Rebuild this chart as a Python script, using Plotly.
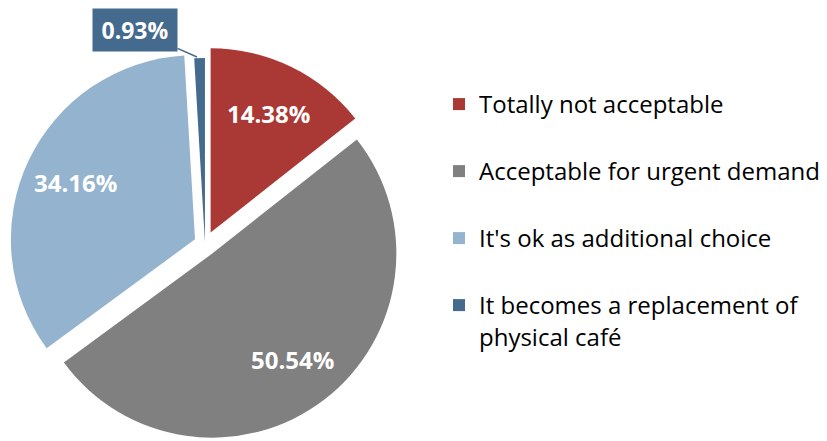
import math
import plotly.graph_objects as go

# Survey answers and their shares (%)
labels = [
    "Totally not acceptable",
    "Acceptable for urgent demand",
    "It's ok as additional choice",
    "It becomes a replacement of<br>physical café",
]
shares = [14.38, 50.54, 34.16, 0.93]
colors = ["#AA3835", "#808080", "#93B3CE", "#446A8E"]
pulls = [0.07, 0.065, 0.06, 0.01]

FONT = "Open Sans"
W, H = 827, 441

# Pie placement (pixels)
dom_x = (8, 402)
dom_top = 47
cx = (dom_x[0] + dom_x[1]) / 2
cy = (dom_top + H) / 2
radius = min(dom_x[1] - dom_x[0], H - dom_top) / (2 * (1 + max(pulls)))

fig = go.Figure()

fig.add_trace(go.Pie(
    labels=labels,
    values=shares,
    sort=False,
    direction="clockwise",
    rotation=0,
    pull=pulls,
    marker=dict(colors=colors, line=dict(width=0)),
    textinfo="none",
    showlegend=False,
    hoverinfo="label+value",
    domain=dict(x=[dom_x[0] / W, dom_x[1] / W], y=[0, (H - dom_top) / H]),
))

# Legend entries, one per answer
for name, col in zip(labels, colors):
    fig.add_trace(go.Scatter(
        x=[None], y=[None], mode="markers", name=name,
        legendgroup=name,
        marker=dict(symbol="square", size=12, color=col),
        hoverinfo="skip",
    ))

# Value labels placed along each slice's mid-angle
total = sum(shares)
cum = 0.0
label_frac = 0.72
for i, (s, p) in enumerate(zip(shares, pulls)):
    mid = math.radians((cum + s / 2) / total * 360)
    cum += s
    if i == 3:
        continue
    r = (label_frac + p) * radius
    px = cx + r * math.sin(mid)
    py = cy - r * math.cos(mid)
    fig.add_annotation(
        x=px / W, y=1 - py / H, xref="paper", yref="paper",
        xanchor="center", yanchor="middle",
        text=f"<b>{s:.2f}%</b>", showarrow=False,
        font=dict(family=FONT, size=24, color="white"),
    )

# Call-out for the smallest slice
small = shares[3]
fig.add_annotation(
    x=197 / W, y=1 - 57 / H, xref="paper", yref="paper",
    ax=-62, ay=-27.5,
    text=f"<b>{small:.2f}%</b>",
    showarrow=True, arrowhead=0, arrowwidth=1.5, arrowcolor=colors[3],
    bgcolor=colors[3], borderpad=7, width=70, height=28,
    font=dict(family=FONT, size=23, color="white"),
)

fig.update_layout(
    width=W, height=H,
    margin=dict(l=0, r=0, t=0, b=0),
    paper_bgcolor="white", plot_bgcolor="white",
    xaxis=dict(visible=False), yaxis=dict(visible=False),
    legend=dict(
        x=439 / W, y=1 - 82 / H, xanchor="left", yanchor="top",
        font=dict(family=FONT, size=24, color="#000000"),
        tracegroupgap=32.8, valign="top", traceorder="grouped",
        bgcolor="rgba(0,0,0,0)", borderwidth=0,
    ),
    showlegend=True,
)

fig.write_html("out.html")
